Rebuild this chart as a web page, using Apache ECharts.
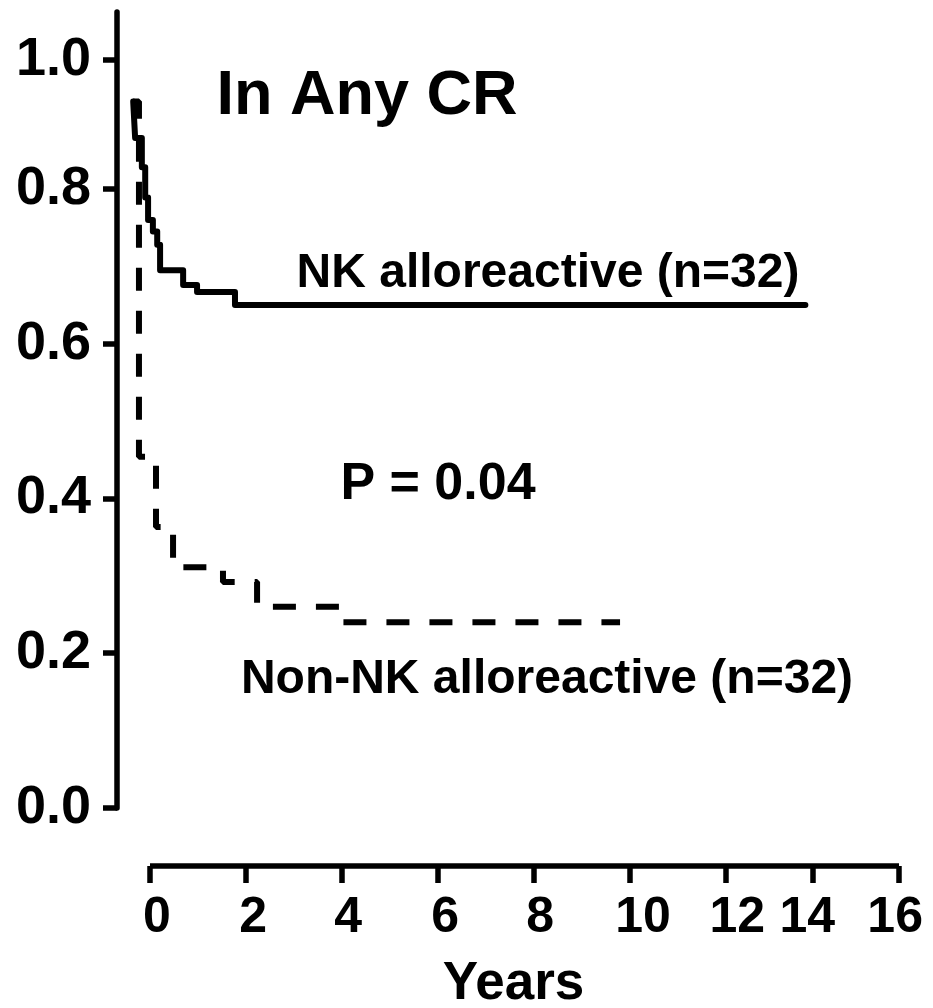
<!DOCTYPE html>
<html><head><meta charset="utf-8">
<script src="https://cdn.jsdelivr.net/npm/echarts@6/dist/echarts.min.js"></script>
<style>html,body{margin:0;padding:0;background:#fff}#c{width:933px;height:1008px}</style>
</head><body><div id="c"></div>
<script>
// Kaplan-Meier style step data (time in years, proportion)
const nkTimes    = [-0.35, -0.31, -0.17, -0.10, -0.04, 0.06, 0.15, 0.21, 0.69, 0.98, 1.77, 13.65];
const nkSurv     = [0.913, 0.866, 0.828, 0.789, 0.760, 0.745, 0.728, 0.695, 0.676, 0.667, 0.650, 0.650];
const nonNkTimes = [-0.35, -0.23, 0.125, 0.48, 1.52, 2.23, 3.96, 9.79];
const nonNkSurv  = [0.913, 0.454, 0.363, 0.311, 0.292, 0.260, 0.240, 0.240];

// Axis ticks and labels as printed on the figure
const yTickValues = [0, 0.2, 0.4, 0.6, 0.8, 0.967];
const yTickLabels = ['0.0', '0.2', '0.4', '0.6', '0.8', '1.0'];
const xTickValues = [0, 2, 4, 6, 8, 10, 12, 13.81, 15.6];
const xLabelValues = [0.146, 2.146, 4.125, 6.146, 8.125, 10.27, 12.23, 13.69, 15.52];
const xTickLabels = ['0', '2', '4', '6', '8', '10', '12', '14', '16'];

const titleText = 'In Any CR';
const nkLabel = 'NK alloreactive (n=32)';
const nonNkLabel = 'Non-NK alloreactive (n=32)';
const pLabel = 'P = 0.04';
const xName = 'Years';

const FONT = '"Liberation Sans", Arial, Helvetica, sans-serif';
const zip = (a, b) => a.map((v, i) => [v, b[i]]);
const nearestIdx = (arr, v) => {
  let best = 0;
  arr.forEach((a, i) => { if (Math.abs(a - v) < Math.abs(arr[best] - v)) best = i; });
  return best;
};

// data grid starts a little left of year 0 (curves begin before the printed 0 tick)
const PX_PER_YEAR = 48;
const DATA_LEFT = 130, AXIS_LEFT = 150;
const dataMin = -(AXIS_LEFT - DATA_LEFT) / PX_PER_YEAR;
const AXW = 5.5, LW = 6;

const chart = echarts.init(document.getElementById('c'));
chart.setOption({
  animation: false,
  backgroundColor: '#fff',
  grid: [
    {left: DATA_LEFT, right: 34, top: 12, bottom: 200, containLabel: false, outerBoundsMode: 'none'},
    {left: AXIS_LEFT, right: 34, top: 12, bottom: 200, containLabel: false, outerBoundsMode: 'none'}
  ],
  xAxis: [
    {type: 'value', gridIndex: 0, min: dataMin, max: 15.6, show: false},
    {
      type: 'value', gridIndex: 1, min: 0, max: 15.6, offset: 58,
      axisLine: {show: true, onZero: false, lineStyle: {color: '#000', width: AXW, cap: 'butt'}},
      axisTick: {show: true, length: 17, customValues: xTickValues, lineStyle: {color: '#000', width: AXW}},
      axisLabel: {
        customValues: xLabelValues,
        formatter: (v) => xTickLabels[nearestIdx(xLabelValues, v)],
        margin: 25, color: '#000', fontSize: 50, lineHeight: 54, fontWeight: 'bold', fontFamily: FONT
      },
      splitLine: {show: false},
      name: xName, nameLocation: 'middle', nameGap: 118,
      nameTextStyle: {color: '#000', fontSize: 53, lineHeight: 44, fontWeight: 'bold', fontFamily: FONT,
        verticalAlign: 'middle', padding: [0, 22, 0, 0]}
    }
  ],
  yAxis: [
    {
      type: 'value', gridIndex: 0, min: 0, max: 1.0287, offset: DATA_LEFT - 117,
      axisLine: {show: true, onZero: false, lineStyle: {color: '#000', width: AXW}},
      axisTick: {show: true, length: 14, customValues: yTickValues, lineStyle: {color: '#000', width: AXW}},
      axisLabel: {
        customValues: yTickValues,
        formatter: (v) => yTickLabels[nearestIdx(yTickValues, v)],
        margin: 26, color: '#000', fontSize: 54, lineHeight: 54, fontWeight: 'bold', fontFamily: FONT
      },
      splitLine: {show: false}
    },
    {type: 'value', gridIndex: 1, min: 0, max: 1.0287, show: false}
  ],
  series: [
    {
      name: nkLabel, type: 'line', step: 'end', symbol: 'none', clip: false,
      xAxisIndex: 0, yAxisIndex: 0,
      data: zip(nkTimes, nkSurv),
      lineStyle: {color: '#000', width: LW, join: 'round', cap: 'round'}
    },
    {
      name: nonNkLabel, type: 'line', step: 'end', symbol: 'none', clip: false,
      xAxisIndex: 0, yAxisIndex: 0,
      data: zip(nonNkTimes, nonNkSurv),
      lineStyle: {color: '#000', width: LW, type: [23, 20], cap: 'butt'}
    }
  ],
  graphic: [
    {type: 'text', x: 367, y: 97, style: {text: titleText, fill: '#000',
      font: 'bold 63px ' + FONT, textAlign: 'center', textVerticalAlign: 'middle'}},
    {type: 'text', x: 548, y: 274, style: {text: nkLabel, fill: '#000',
      font: 'bold 48px ' + FONT, textAlign: 'center', textVerticalAlign: 'middle'}},
    {type: 'text', x: 438, y: 485, style: {text: pLabel, fill: '#000',
      font: 'bold 52px ' + FONT, textAlign: 'center', textVerticalAlign: 'middle'}},
    {type: 'text', x: 547, y: 680, style: {text: nonNkLabel, fill: '#000',
      font: 'bold 48px ' + FONT, textAlign: 'center', textVerticalAlign: 'middle'}}
  ]
});
</script></body></html>
